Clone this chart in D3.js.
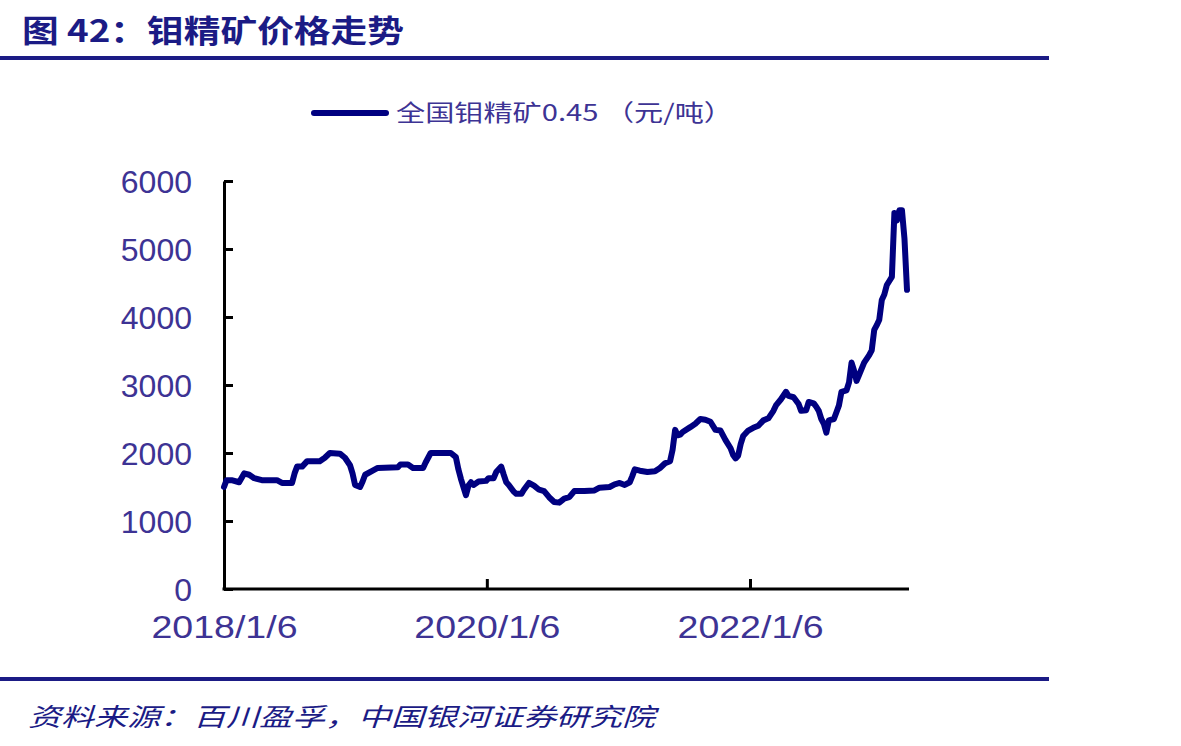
<!DOCTYPE html>
<html><head><meta charset="utf-8">
<script src="https://cdn.jsdelivr.net/npm/d3@7"></script>
<style>
html,body{margin:0;padding:0;background:#fff;}
svg{display:block;}
</style></head>
<body>
<svg id="chart" width="1181" height="746"></svg>
<script>
const titleText = "图 42：钼精矿价格走势";
const legendLabel = "全国钼精矿0.45 （元/吨）";
const sourceText = "资料来源：百川盈孚，中国银河证券研究院";
const yTicks = [0,1000,2000,3000,4000,5000,6000];
const xTickDates = ["2018-01-06","2020-01-06","2022-01-06"];
const xTickLabels = ["2018/1/6","2020/1/6","2022/1/6"];

const dates = [
"2018-01-06","2018-01-13","2018-01-27","2018-02-17","2018-03-03","2018-03-17","2018-03-31","2018-04-21",
"2018-06-02","2018-06-16","2018-07-14","2018-07-21","2018-07-28","2018-08-11","2018-08-25","2018-09-29",
"2018-10-13","2018-10-27","2018-11-24","2018-12-08","2018-12-22","2018-12-29",
"2019-01-05","2019-01-19","2019-01-26","2019-02-02","2019-02-23","2019-03-09","2019-05-04","2019-05-11",
"2019-06-01","2019-06-15","2019-07-13","2019-07-20","2019-08-03","2019-09-28","2019-10-12","2019-10-19",
"2019-10-26","2019-11-09","2019-11-16","2019-11-23","2019-11-30","2019-12-14",
"2020-01-04","2020-01-11","2020-01-25","2020-02-01","2020-02-15","2020-02-22","2020-02-29","2020-03-07",
"2020-03-21","2020-03-28","2020-04-11","2020-04-18","2020-05-02","2020-05-16","2020-05-30","2020-06-13",
"2020-06-27","2020-07-11","2020-07-25","2020-08-08","2020-08-22","2020-09-05","2020-10-03","2020-10-31",
"2020-11-14","2020-12-12","2020-12-26",
"2021-01-09","2021-01-23","2021-02-06","2021-02-13","2021-02-20","2021-03-06","2021-03-27","2021-04-17",
"2021-05-01","2021-05-15","2021-05-29","2021-06-05","2021-06-12","2021-06-19","2021-06-26","2021-07-03",
"2021-07-24","2021-08-07","2021-08-21","2021-09-04","2021-09-18","2021-10-02","2021-10-16","2021-10-30",
"2021-11-13","2021-11-20","2021-11-27","2021-12-04","2021-12-11","2021-12-18",
"2022-01-01","2022-01-15","2022-01-29","2022-02-12","2022-02-26","2022-03-12","2022-03-19","2022-04-02",
"2022-04-16","2022-04-23","2022-05-07","2022-05-21","2022-05-28","2022-06-11","2022-06-18","2022-07-02",
"2022-07-09","2022-07-16","2022-07-23","2022-07-30","2022-08-06","2022-08-13","2022-08-27","2022-09-03",
"2022-09-10","2022-09-17","2022-10-01","2022-10-08","2022-10-15","2022-10-22","2022-10-29","2022-11-05",
"2022-11-19","2022-12-03","2022-12-10","2022-12-17","2022-12-24","2022-12-31",
"2023-01-07","2023-01-14","2023-01-21","2023-01-28","2023-02-04","2023-02-11","2023-02-18","2023-02-25",
"2023-03-04","2023-03-11","2023-03-18"
];
const prices = [
1500,1600,1600,1570,1700,1680,1630,1600,
1600,1560,1560,1700,1800,1800,1880,1880,
1930,2000,1990,1930,1820,1700,
1530,1500,1580,1680,1740,1780,1790,1830,
1830,1780,1780,1860,2000,2000,1940,1760,
1620,1380,1520,1570,1530,1580,
1590,1630,1630,1720,1800,1680,1570,1530,
1430,1400,1400,1460,1560,1520,1460,1440,
1350,1280,1270,1330,1350,1440,1440,1450,
1490,1500,1540,
1560,1530,1570,1660,1760,1740,1720,1730,
1780,1850,1880,2050,2340,2260,2270,2310,
2380,2430,2500,2490,2460,2340,2330,2190,
2070,1970,1920,1960,2130,2250,
2330,2370,2400,2480,2510,2620,2700,2790,
2900,2840,2820,2720,2620,2630,2750,2730,
2680,2620,2500,2430,2300,2480,2500,2600,
2700,2900,2920,3040,3330,3210,3060,3150,
3330,3440,3510,3810,3880,3960,
4250,4330,4470,4530,4590,5530,5420,5570,
5570,5150,4400
];

const parse = d3.timeParse("%Y-%m-%d");
const data = dates.map((d,i)=>({date:parse(d), value:prices[i]}));

const svg = d3.select("#chart");
const navy = "#1b1b85";
const labelColor = "#3d3394";

// title
svg.append("text").attr("x",22).attr("y",42)
  .attr("font-family","'Noto Sans CJK SC'").attr("font-weight",700).attr("font-size",31)
  .attr("fill",navy).attr("textLength",382).attr("lengthAdjust","spacingAndGlyphs")
  .text(titleText);
svg.append("rect").attr("x",0).attr("y",56).attr("width",1049).attr("height",4).attr("fill",navy);
svg.append("rect").attr("x",0).attr("y",677).attr("width",1049).attr("height",4).attr("fill",navy);

// source
svg.append("text").attr("x",28).attr("y",726)
  .attr("font-family","'Noto Sans CJK SC'").attr("font-style","italic").attr("font-size",25)
  .attr("fill",navy).attr("textLength",627).attr("lengthAdjust","spacingAndGlyphs")
  .text(sourceText);

const x = d3.scaleTime().domain([data[0].date, data[data.length-1].date]).range([224,907]);
const y = d3.scaleLinear().domain([0,6000]).range([589,181]);

// y axis
const yAxis = d3.axisLeft(y).tickValues(yTicks).tickSize(-9).tickSizeOuter(0).tickPadding(32)
  .tickFormat(d3.format("d"));
const gy = svg.append("g").attr("transform","translate(224,0)").call(yAxis);
gy.select(".domain").attr("stroke","#000").attr("stroke-width",3);
gy.selectAll(".tick line").attr("stroke","#000").attr("stroke-width",3);
gy.selectAll(".tick text").attr("fill",labelColor).attr("font-family","'Liberation Sans', Arial, sans-serif")
  .attr("font-size",32).attr("dy","0.35em");

// x axis
const xAxis = d3.axisBottom(x).tickValues(xTickDates.map(parse)).tickSize(-10).tickSizeOuter(0)
  .tickFormat((d,i)=>xTickLabels[i]).tickPadding(26);
const gx = svg.append("g").attr("transform","translate(0,589)").call(xAxis);
gx.select(".domain").attr("stroke","#000").attr("stroke-width",3).attr("d","M222.5,0H909");
gx.selectAll(".tick line").attr("stroke","#000").attr("stroke-width",3)
  .attr("opacity",(d,i)=>i===0?0:1);
gx.selectAll(".tick text").attr("fill",labelColor).attr("font-family","'Liberation Sans', Arial, sans-serif")
  .attr("font-size",32).attr("dy","0.71em").attr("textLength",146).attr("lengthAdjust","spacingAndGlyphs");

// line
const line = d3.line().x(d=>x(d.date)).y(d=>y(d.value));
svg.append("path").datum(data).attr("d",line).attr("fill","none")
  .attr("stroke","#000080").attr("stroke-width",6).attr("stroke-linejoin","round").attr("stroke-linecap","round");

// legend
svg.append("line").attr("x1",314).attr("x2",386).attr("y1",113).attr("y2",113)
  .attr("stroke","#000080").attr("stroke-width",6).attr("stroke-linecap","round");
svg.append("text").attr("x",396).attr("y",113).attr("dy","0.35em")
  .attr("font-family","'Noto Sans CJK SC'").attr("font-size",23).attr("fill",labelColor)
  .attr("textLength",337).attr("lengthAdjust","spacingAndGlyphs")
  .text(legendLabel);
</script>
</body></html>
